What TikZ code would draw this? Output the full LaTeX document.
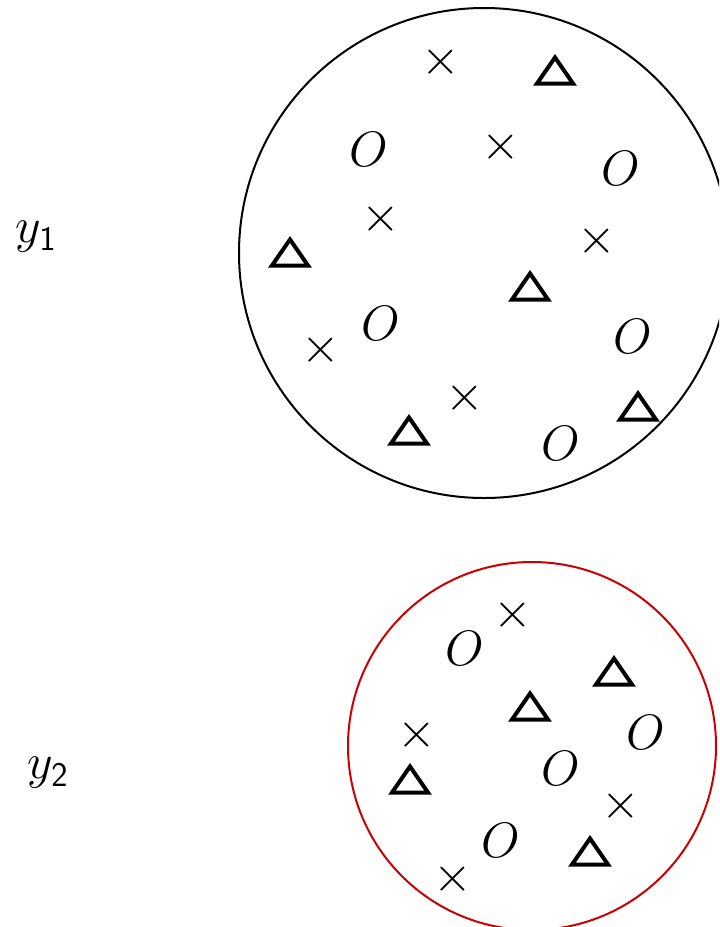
\documentclass[tikz,border=0pt]{standalone}
\definecolor{circred}{RGB}{204,0,0}
\tikzset{
  sym/.style={inner sep=0pt, font=\fontsize{24}{28}\selectfont},
  lbl/.style={inner sep=0pt, font=\fontsize{24}{28}\selectfont},
  ring/.style={circle, draw, line width=1pt, inner sep=0pt},
  tri/.pic={\draw[line width=2pt, line join=miter] (-18,13.5) -- (0,-12.5) -- (18,13.5) -- cycle;},
}
\begin{document}
\begin{tikzpicture}[x=0.5pt,y=-0.5pt]
\clip (0,0) rectangle (719,927);
\useasboundingbox (0,0) rectangle (719,927);
\node[ring, minimum size=245pt] (c1) at (484,253) {};
\node[ring, draw=circred, minimum size=184pt] (c2) at (532,746) {};
\node[lbl] (y1) at (36,237) {$y_{\mathsf{1}}$};
\node[lbl] (y2) at (48,773) {$y_{\mathsf{2}}$};
% circle 1
\node[sym] (a1) at (441,62) {$\times$};
\pic (a2) at (555,70) {tri};
\node[sym] (a3) at (369,149) {$O$};
\node[sym] (a4) at (501,147) {$\times$};
\node[sym] (a5) at (621,168) {$O$};
\node[sym] (a6) at (381,219) {$\times$};
\node[sym] (a7) at (597,241) {$\times$};
\pic (a8) at (290,252) {tri};
\pic (a9) at (530,286) {tri};
\node[sym] (a10) at (381,323) {$O$};
\node[sym] (a11) at (633,336) {$O$};
\node[sym] (a12) at (321,350) {$\times$};
\node[sym] (a13) at (465,398) {$\times$};
\pic (a14) at (638,406) {tri};
\pic (a15) at (409,430) {tri};
\node[sym] (a16) at (561,443) {$O$};
% circle 2
\node[sym] (b1) at (513,615) {$\times$};
\node[sym] (b2) at (465,648) {$O$};
\pic (b3) at (614,671) {tri};
\pic (b4) at (530,706) {tri};
\node[sym] (b5) at (417,735) {$\times$};
\node[sym] (b6) at (646,732) {$O$};
\pic (b7) at (410,779) {tri};
\node[sym] (b8) at (561,768) {$O$};
\node[sym] (b9) at (621,806) {$\times$};
\node[sym] (b10) at (501,840) {$O$};
\pic (b11) at (590,851) {tri};
\node[sym] (b12) at (453,879) {$\times$};
\end{tikzpicture}
\end{document}
